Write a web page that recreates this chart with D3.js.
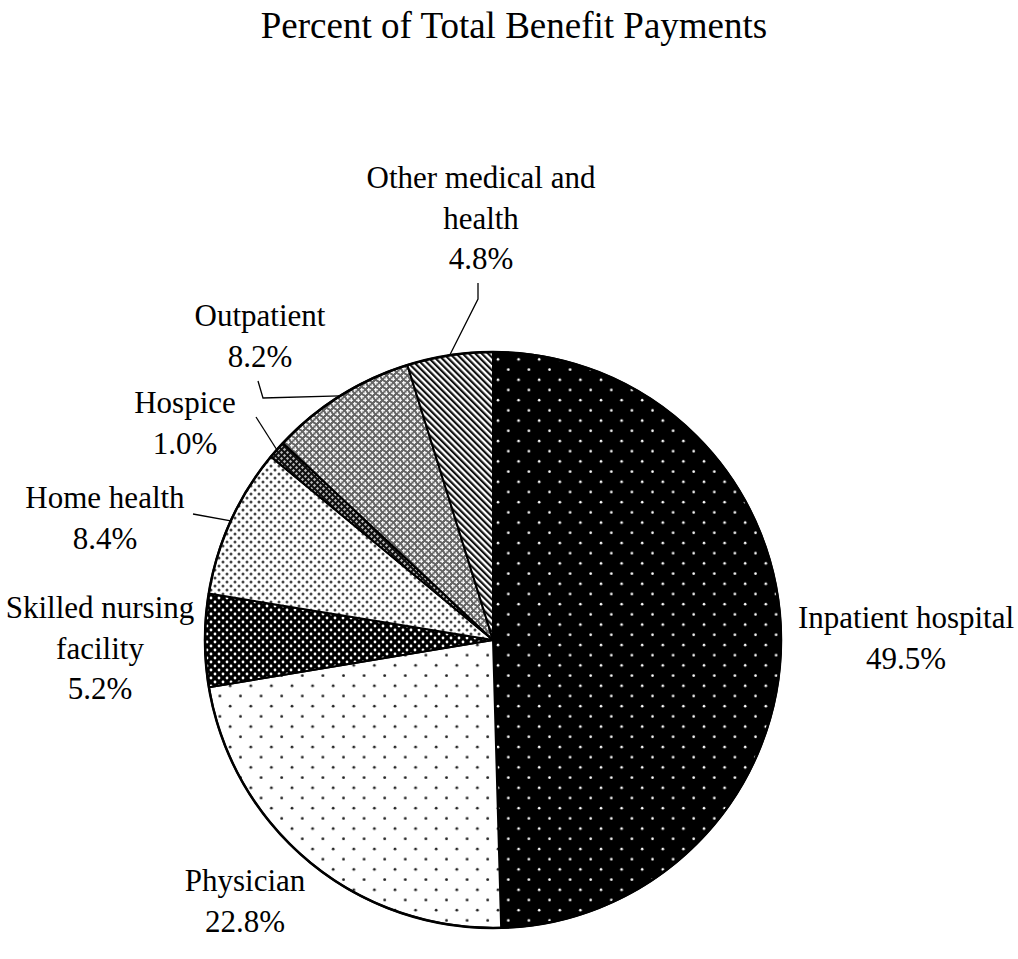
<!DOCTYPE html>
<html>
<head>
<meta charset="utf-8">
<script src="https://cdn.jsdelivr.net/npm/d3@7"></script>
<style>
  html, body { margin: 0; padding: 0; background: #fff; }
  svg { display: block; }
  text { font-family: "Liberation Serif", "Times New Roman", serif; fill: #000; }
</style>
</head>
<body>
<svg id="chart" width="1018" height="959"></svg>
<script>
// Benefit payment categories, clockwise from 12 o'clock
const categories = [
  "Inpatient hospital",
  "Physician",
  "Skilled nursing facility",
  "Home health",
  "Hospice",
  "Outpatient",
  "Other medical and health"
];
const percents = [49.5, 22.8, 5.2, 8.4, 1.0, 8.2, 4.8];
const labelLines = [
  ["Inpatient hospital", "49.5%"],
  ["Physician", "22.8%"],
  ["Skilled nursing", "facility", "5.2%"],
  ["Home health", "8.4%"],
  ["Hospice", "1.0%"],
  ["Outpatient", "8.2%"],
  ["Other medical and", "health", "4.8%"]
];
const chartTitle = "Percent of Total Benefit Payments";

// Label placement: centre x, first baseline, optional leader start points
const labelLayout = [
  { x: 906, y: 628, leader: null },
  { x: 245, y: 891, leader: null },
  { x: 100, y: 618, leader: null },
  { x: 105, y: 508, leader: [[193, 514]] },
  { x: 185, y: 413, leader: [[256, 417]] },
  { x: 260, y: 326, leader: [[258, 381], [263, 398]] },
  { x: 481, y: 188, leader: [[478, 283], [478, 299]] }
];
const lineHeight = 40.5;

const svg = d3.select("#chart");
const defs = svg.append("defs");

// Pattern fills for each slice
function dotPattern(id, w, h, bg, dot, r, pts) {
  const p = defs.append("pattern").attr("id", id)
    .attr("patternUnits", "userSpaceOnUse").attr("width", w).attr("height", h);
  p.append("rect").attr("width", w).attr("height", h).attr("fill", bg);
  pts.forEach(([x, y]) => p.append("circle").attr("cx", x).attr("cy", y).attr("r", r).attr("fill", dot));
  return "url(#" + id + ")";
}
function crossPattern(id, s, bg, fg, arm) {
  const p = defs.append("pattern").attr("id", id)
    .attr("patternUnits", "userSpaceOnUse").attr("width", s).attr("height", s);
  p.append("rect").attr("width", s).attr("height", s).attr("fill", bg);
  [[s / 4, s / 4], [3 * s / 4, 3 * s / 4]].forEach(([x, y]) => {
    p.append("rect").attr("x", x - arm).attr("y", y - 0.6).attr("width", 2 * arm).attr("height", 1.2).attr("fill", fg);
    p.append("rect").attr("x", x - 0.6).attr("y", y - arm).attr("width", 1.2).attr("height", 2 * arm).attr("fill", fg);
  });
  return "url(#" + id + ")";
}
function stripePattern(id, period, bg, fg, width) {
  const p = defs.append("pattern").attr("id", id)
    .attr("patternUnits", "userSpaceOnUse").attr("width", period).attr("height", period)
    .attr("patternTransform", "rotate(-45)");
  p.append("rect").attr("width", period).attr("height", period).attr("fill", bg);
  p.append("rect").attr("width", width).attr("height", period).attr("fill", fg);
  return "url(#" + id + ")";
}

const fills = [
  dotPattern("pInpatient", 20.6, 20.4, "#000", "#fff", 1.3, [[5, 5], [15.3, 15.2]]),
  dotPattern("pPhysician", 20.6, 20.4, "#fff", "#222", 1.4, [[5, 5], [15.3, 15.2]]),
  dotPattern("pSnf", 8, 8, "#000", "#fff", 1.4, [[2, 2], [6, 6]]),
  dotPattern("pHome", 8, 8, "#fff", "#444", 1.5, [[2, 2], [6, 6]]),
  crossPattern("pHospice", 6, "#111", "#bbb", 1.3),
  crossPattern("pOutpatient", 7, "#666", "#fff", 2.2),
  stripePattern("pOther", 4.5, "#fff", "#111", 2.2)
];

const cx = 493, cy = 640, radius = 288;
const data = categories.map((c, i) => ({ name: c, value: percents[i], idx: i }));

const pie = d3.pie().value(d => d.value).sort(null);
const arc = d3.arc().innerRadius(0).outerRadius(radius);
const edgeArc = d3.arc().innerRadius(radius).outerRadius(radius);

const g = svg.append("g").attr("transform", `translate(${cx},${cy})`);
const arcs = pie(data);

g.selectAll("path.slice").data(arcs).join("path")
  .attr("class", "slice")
  .attr("d", arc)
  .attr("fill", d => fills[d.data.idx])
  .attr("stroke", "#000")
  .attr("stroke-width", 2)
  .attr("stroke-linejoin", "round");

g.append("circle").attr("r", radius).attr("fill", "none")
  .attr("stroke", "#000").attr("stroke-width", 2.5);

// Leader lines from label to slice edge
const line = d3.line();
arcs.forEach(a => {
  const lay = labelLayout[a.data.idx];
  if (!lay.leader) return;
  const [ex, ey] = edgeArc.centroid(a);
  const pts = lay.leader.concat([[ex + cx, ey + cy]]);
  svg.append("path").attr("d", line(pts))
    .attr("fill", "none").attr("stroke", "#000").attr("stroke-width", 1.3);
});

// Slice labels
arcs.forEach(a => {
  const lay = labelLayout[a.data.idx];
  const t = svg.append("text").attr("text-anchor", "middle").attr("font-size", 31);
  labelLines[a.data.idx].forEach((s, k) => {
    t.append("tspan").attr("x", lay.x).attr("y", lay.y + k * lineHeight).text(s);
  });
});

svg.append("text").attr("x", 514).attr("y", 38)
  .attr("text-anchor", "middle").attr("font-size", 37).text(chartTitle);
</script>
</body>
</html>
